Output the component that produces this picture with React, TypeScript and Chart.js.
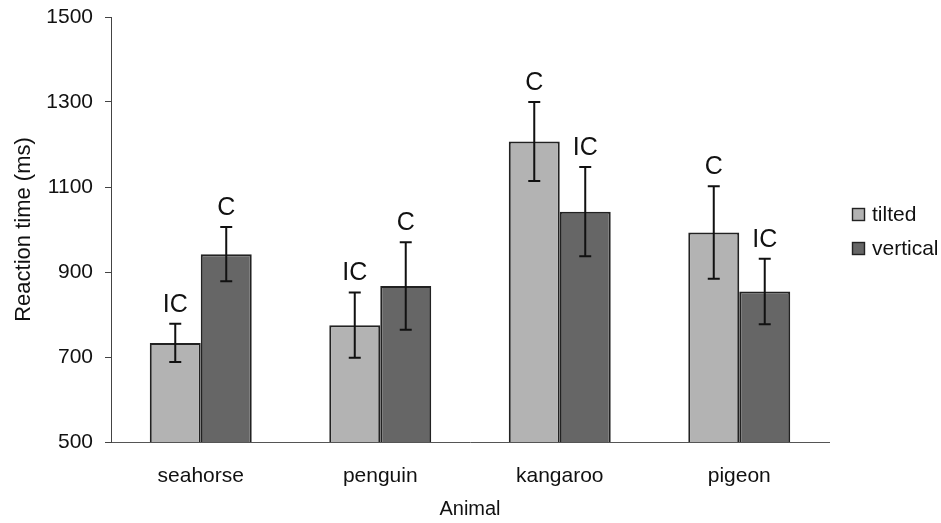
import React, { useEffect, useRef } from "react";
import { Chart, registerables } from "chart.js";

Chart.register(...registerables);

const categories = ["seahorse", "penguin", "kangaroo", "pigeon"];
const seriesNames = ["tilted", "vertical"];
const tiltedValues = [733, 775, 1207, 993];
const verticalValues = [942, 867, 1042, 854];
const tiltedErrors = [45, 77, 93, 109];
const verticalErrors = [64, 103, 105, 77];
const tiltedLabels = ["IC", "IC", "C", "C"];
const verticalLabels = ["C", "C", "IC", "IC"];
const yTicks = [500, 700, 900, 1100, 1300, 1500];

const FONT = "'Liberation Sans', Arial, sans-serif";
const colors = ["#b3b3b3", "#666666"];

const overlayPlugin = {
  id: "overlay",
  afterDatasetsDraw(chart: any) {
    const ctx = chart.ctx;
    const y = chart.scales.y;
    const errs = [tiltedErrors, verticalErrors];
    const labs = [tiltedLabels, verticalLabels];
    ctx.save();
    chart.data.datasets.forEach((ds: any, di: number) => {
      const meta = chart.getDatasetMeta(di);
      meta.data.forEach((bar: any, i: number) => {
        const v = ds.data[i];
        const e = errs[di][i];
        const x = bar.x;
        const yTop = y.getPixelForValue(v + e);
        const yBot = y.getPixelForValue(v - e);
        ctx.strokeStyle = "#111";
        ctx.lineWidth = 2;
        ctx.beginPath();
        ctx.moveTo(x, yTop);
        ctx.lineTo(x, yBot);
        ctx.moveTo(x - 6, yTop);
        ctx.lineTo(x + 6, yTop);
        ctx.moveTo(x - 6, yBot);
        ctx.lineTo(x + 6, yBot);
        ctx.stroke();
        ctx.fillStyle = "#111";
        ctx.font = `25px ${FONT}`;
        ctx.textAlign = "center";
        ctx.textBaseline = "alphabetic";
        ctx.fillText(labs[di][i], x, yTop - 12);
      });
    });
    // legend
    const lx = 852;
    const ly = [208, 242];
    seriesNames.forEach((name, i) => {
      ctx.fillStyle = colors[i];
      ctx.fillRect(lx, ly[i], 13, 13);
      ctx.strokeStyle = "#222";
      ctx.lineWidth = 1.4;
      ctx.strokeRect(lx + 0.5, ly[i] + 0.5, 12, 12);
      ctx.fillStyle = "#111";
      ctx.font = `21px ${FONT}`;
      ctx.textAlign = "left";
      ctx.textBaseline = "middle";
      ctx.fillText(name, lx + 20, ly[i] + 7);
    });
    ctx.restore();
  },
};

const bgPlugin = {
  id: "bg",
  beforeDraw(chart: any) {
    const ctx = chart.ctx;
    ctx.save();
    ctx.fillStyle = "#ffffff";
    ctx.fillRect(0, 0, chart.width, chart.height);
    ctx.restore();
  },
};

export default function App() {
  const ref = useRef<HTMLCanvasElement>(null);
  useEffect(() => {
    if (!ref.current) return;
    const chart = new Chart(ref.current, {
      type: "bar",
      data: {
        labels: categories,
        datasets: [
          {
            label: seriesNames[0],
            data: tiltedValues,
            backgroundColor: colors[0],
            borderColor: "#222",
            borderWidth: 2,
            categoryPercentage: 0.568,
            barPercentage: 1,
          },
          {
            label: seriesNames[1],
            data: verticalValues,
            backgroundColor: colors[1],
            borderColor: "#222",
            borderWidth: 2,
            categoryPercentage: 0.568,
            barPercentage: 1,
          },
        ],
      },
      options: {
        responsive: false,
        animation: false,
        layout: { padding: { top: 17, right: 112, left: 0, bottom: 0 } },
        plugins: { legend: { display: false }, tooltip: { enabled: false } },
        scales: {
          x: {
            grid: { display: false, drawTicks: false },
            border: { display: true, color: "#555", width: 1 },
            ticks: { color: "#111", font: { family: FONT, size: 21 }, padding: 22 },
            title: {
              display: true,
              text: "Animal",
              color: "#111",
              font: { family: FONT, size: 20 },
              padding: { top: 0, bottom: 2 },
            },
            afterFit(scale: any) {
              scale.height = 81;
              scale.paddingLeft = 0;
              scale.paddingRight = 0;
            },
          },
          y: {
            min: 500,
            max: 1500,
            afterBuildTicks(scale: any) {
              scale.ticks = yTicks.map((v) => ({ value: v }));
            },
            grid: {
              display: true,
              drawOnChartArea: false,
              drawTicks: true,
              tickLength: 6,
              color: "#444",
            },
            border: { display: true, color: "#444", width: 1 },
            ticks: {
              color: "#111",
              font: { family: FONT, size: 21 },
              padding: 12,
              callback: (v: any) => String(v),
            },
            title: {
              display: true,
              text: "Reaction time (ms)",
              color: "#111",
              font: { family: FONT, size: 22 },
              padding: { top: 11, bottom: 0 },
            },
            afterFit(scale: any) {
              scale.width = 111;
              scale.paddingTop = 0;
              scale.paddingBottom = 0;
            },
          },
        },
      },
      plugins: [bgPlugin, overlayPlugin],
    });
    return () => chart.destroy();
  }, []);
  return (
    <canvas
      ref={ref}
      width={941}
      height={523}
      style={{ position: "absolute", left: 0, top: 0, display: "block" }}
    />
  );
}
